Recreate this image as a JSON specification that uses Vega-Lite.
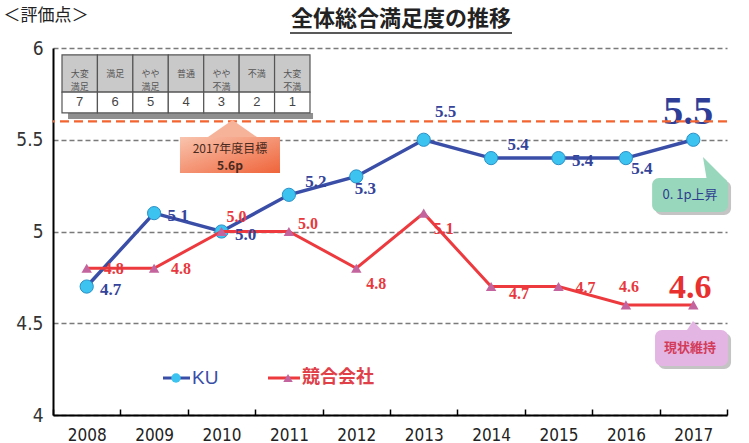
{
  "$schema": "https://vega.github.io/schema/vega-lite/v6.json",
  "width": 674,
  "height": 367,
  "autosize": {"type": "none"},
  "padding": {"left": 53, "top": 48, "right": 22, "bottom": 28},
  "background": "white",
  "config": {"view": {"stroke": null}},
  "datasets": {
    "ku": [
      {"year": "2008", "value": 4.7}, {"year": "2009", "value": 5.1}, {"year": "2010", "value": 5.0},
      {"year": "2011", "value": 5.2}, {"year": "2012", "value": 5.3}, {"year": "2013", "value": 5.5},
      {"year": "2014", "value": 5.4}, {"year": "2015", "value": 5.4}, {"year": "2016", "value": 5.4},
      {"year": "2017", "value": 5.5}
    ],
    "comp": [
      {"year": "2008", "value": 4.8}, {"year": "2009", "value": 4.8}, {"year": "2010", "value": 5.0},
      {"year": "2011", "value": 5.0}, {"year": "2012", "value": 4.8}, {"year": "2013", "value": 5.1},
      {"year": "2014", "value": 4.7}, {"year": "2015", "value": 4.7}, {"year": "2016", "value": 4.6},
      {"year": "2017", "value": 4.6}
    ],
    "scale": [
      {"score": 7, "label": "大変\n満足"}, {"score": 6, "label": "満足"}, {"score": 5, "label": "やや\n満足"},
      {"score": 4, "label": "普通"}, {"score": 3, "label": "やや\n不満"}, {"score": 2, "label": "不満"},
      {"score": 1, "label": "大変\n不満"}
    ]
  },
  "layer": [
    {
      "encoding": {
        "x": {
          "field": "year", "type": "ordinal",
          "scale": {"paddingInner": 0, "paddingOuter": 0},
          "axis": {
            "title": null, "labelAngle": 0, "tickBand": "extent", "tickSize": -6, "tickColor": "#000",
            "tickWidth": 1.5, "domainColor": "#000", "domainWidth": 2, "labelFontSize": 17,
            "labelFont": "Liberation Sans Narrow, DejaVu Sans Condensed, sans-serif", "labelColor": "#222", "labelPadding": 18
          }
        },
        "y": {
          "field": "value", "type": "quantitative",
          "scale": {"domain": [4, 6]},
          "axis": {
            "values": [4, 4.5, 5, 5.5, 6], "format": ".1~f", "grid": true, "gridDash": [5, 3], "gridColor": "#7a7a7a",
            "gridWidth": 1.4, "domainColor": "#000", "domainWidth": 2, "ticks": false, "labelFontSize": 19,
            "labelFont": "Liberation Sans Narrow, DejaVu Sans Condensed, sans-serif", "labelColor": "#333", "labelPadding": 10,
            "title": "＜評価点＞", "titleAngle": 0, "titleAlign": "left", "titleBaseline": "middle",
            "titleX": -50, "titleY": -33, "titleFontSize": 17, "titleFontWeight": "normal",
            "titleFont": "Noto Sans CJK JP", "titleColor": "#222"
          }
        }
      },
      "layer": [
        {"data": {"name": "ku"}, "mark": {"type": "line", "color": "#3a4ea8", "strokeWidth": 3.5}},
        {"data": {"name": "ku"}, "mark": {"type": "point", "shape": "circle", "filled": true, "size": 175, "color": "#3cc3ef", "stroke": "#2a90c8", "strokeWidth": 1, "opacity": 1}},
        {"data": {"name": "comp"}, "mark": {"type": "line", "color": "#ec3a3f", "strokeWidth": 3}},
        {"data": {"name": "comp"}, "mark": {"type": "point", "shape": "triangle-up", "filled": true, "size": 110, "color": "#c4649e", "opacity": 1}},
        {"data": {"name": "ku"}, "transform": [{"filter": {"field": "year", "oneOf": ["2008", "2009", "2010", "2015"]}}],
         "mark": {"type": "text", "dx": 24, "dy": 3, "font": "Liberation Serif", "fontWeight": "bold", "fontSize": 17, "color": "#34449a"},
         "encoding": {"text": {"field": "value", "type": "quantitative", "format": ".1f"}}},
        {"data": {"name": "ku"}, "transform": [{"filter": {"field": "year", "oneOf": ["2011", "2014"]}}],
         "mark": {"type": "text", "dx": 27, "dy": -13, "font": "Liberation Serif", "fontWeight": "bold", "fontSize": 17, "color": "#34449a"},
         "encoding": {"text": {"field": "value", "type": "quantitative", "format": ".1f"}}},
        {"data": {"name": "ku"}, "transform": [{"filter": {"field": "year", "oneOf": ["2012"]}}],
         "mark": {"type": "text", "dx": 9, "dy": 13, "font": "Liberation Serif", "fontWeight": "bold", "fontSize": 17, "color": "#34449a"},
         "encoding": {"text": {"field": "value", "type": "quantitative", "format": ".1f"}}},
        {"data": {"name": "ku"}, "transform": [{"filter": {"field": "year", "oneOf": ["2016"]}}],
         "mark": {"type": "text", "dx": 16, "dy": 11, "font": "Liberation Serif", "fontWeight": "bold", "fontSize": 17, "color": "#34449a"},
         "encoding": {"text": {"field": "value", "type": "quantitative", "format": ".1f"}}},
        {"data": {"name": "ku"}, "transform": [{"filter": {"field": "year", "oneOf": ["2013"]}}],
         "mark": {"type": "text", "dx": 22, "dy": -28, "font": "Liberation Serif", "fontWeight": "bold", "fontSize": 17, "color": "#34449a"},
         "encoding": {"text": {"field": "value", "type": "quantitative", "format": ".1f"}}},
        {"data": {"name": "ku"}, "transform": [{"filter": {"field": "year", "oneOf": ["2017"]}}],
         "mark": {"type": "text", "dx": -5, "dy": -28, "font": "Liberation Serif", "fontWeight": "bold", "fontSize": 40, "color": "#2e3e96"},
         "encoding": {"text": {"field": "value", "type": "quantitative", "format": ".1f"}}},
        {"data": {"name": "comp"}, "transform": [{"filter": {"field": "year", "oneOf": ["2008", "2009", "2015"]}}],
         "mark": {"type": "text", "dx": 27, "dy": 1, "font": "Liberation Serif", "fontWeight": "bold", "fontSize": 16, "color": "#e8383d"},
         "encoding": {"text": {"field": "value", "type": "quantitative", "format": ".1f"}}},
        {"data": {"name": "comp"}, "transform": [{"filter": {"field": "year", "oneOf": ["2014"]}}],
         "mark": {"type": "text", "dx": 28, "dy": 7, "font": "Liberation Serif", "fontWeight": "bold", "fontSize": 16, "color": "#e8383d"},
         "encoding": {"text": {"field": "value", "type": "quantitative", "format": ".1f"}}},
        {"data": {"name": "comp"}, "transform": [{"filter": {"field": "year", "oneOf": ["2012", "2013"]}}],
         "mark": {"type": "text", "dx": 20, "dy": 16, "font": "Liberation Serif", "fontWeight": "bold", "fontSize": 16, "color": "#e8383d"},
         "encoding": {"text": {"field": "value", "type": "quantitative", "format": ".1f"}}},
        {"data": {"name": "comp"}, "transform": [{"filter": {"field": "year", "oneOf": ["2010"]}}],
         "mark": {"type": "text", "dx": 15, "dy": -15, "font": "Liberation Serif", "fontWeight": "bold", "fontSize": 16, "color": "#e8383d"},
         "encoding": {"text": {"field": "value", "type": "quantitative", "format": ".1f"}}},
        {"data": {"name": "comp"}, "transform": [{"filter": {"field": "year", "oneOf": ["2011"]}}],
         "mark": {"type": "text", "dx": 19, "dy": -8, "font": "Liberation Serif", "fontWeight": "bold", "fontSize": 16, "color": "#e8383d"},
         "encoding": {"text": {"field": "value", "type": "quantitative", "format": ".1f"}}},
        {"data": {"name": "comp"}, "transform": [{"filter": {"field": "year", "oneOf": ["2016"]}}],
         "mark": {"type": "text", "dx": 3, "dy": -18, "font": "Liberation Serif", "fontWeight": "bold", "fontSize": 16, "color": "#e8383d"},
         "encoding": {"text": {"field": "value", "type": "quantitative", "format": ".1f"}}},
        {"data": {"name": "comp"}, "transform": [{"filter": {"field": "year", "oneOf": ["2017"]}}],
         "mark": {"type": "text", "dx": -3, "dy": -17, "font": "Liberation Serif", "fontWeight": "bold", "fontSize": 34, "color": "#e8302f"},
         "encoding": {"text": {"field": "value", "type": "quantitative", "format": ".1f"}}}
      ]
    },
    {
      "data": {"values": [{}]},
      "layer": [
        {"mark": {"type": "rule", "color": "#f26430", "strokeDash": [9, 5], "strokeWidth": 2.2},
         "encoding": {"y": {"datum": 5.6, "type": "quantitative"}}},
        {"mark": {"type": "rect", "color": "#8f8f8f"},
         "encoding": {"x": {"datum": 0.223, "type": "quantitative", "scale": {"domain": [0, 10]}, "axis": null}, "x2": {"datum": 3.858},
                      "y": {"datum": 5.646, "type": "quantitative"}, "y2": {"datum": 5.613}}},
        {"mark": {"type": "point", "shape": "M-1,0.35L0,-0.35L1,0.35Z", "filled": true, "size": 2401, "color": "#f7b39a", "opacity": 1},
         "encoding": {"x": {"datum": 2.663, "type": "quantitative", "scale": {"domain": [0, 10]}, "axis": null},
                      "y": {"datum": 5.5613, "type": "quantitative"}}},
        {"mark": {"type": "rect", "fill": {"gradient": "linear", "x1": 0, "y1": 0, "x2": 1, "y2": 1, "stops": [{"offset": 0, "color": "#f9c4ae"}, {"offset": 1, "color": "#ef643a"}]}},
         "encoding": {"x": {"datum": 1.884, "type": "quantitative", "scale": {"domain": [0, 10]}, "axis": null}, "x2": {"datum": 3.368},
                      "y": {"datum": 5.515, "type": "quantitative"}, "y2": {"datum": 5.319}}},
        {"mark": {"type": "text", "text": "2017年度目標", "fontSize": 12, "color": "#4a2a20", "font": "Noto Sans CJK JP"},
         "encoding": {"x": {"datum": 2.626, "type": "quantitative", "scale": {"domain": [0, 10]}, "axis": null},
                      "y": {"datum": 5.452, "type": "quantitative"}}},
        {"mark": {"type": "text", "text": "5.6p", "fontSize": 12, "fontWeight": "bold", "color": "#4a2a20", "font": "Noto Sans CJK JP"},
         "encoding": {"x": {"datum": 2.626, "type": "quantitative", "scale": {"domain": [0, 10]}, "axis": null},
                      "y": {"datum": 5.355, "type": "quantitative"}}},
        {"mark": {"type": "rect", "color": "#c4c4c4", "cornerRadius": 7},
         "encoding": {"x": {"datum": 8.933, "type": "quantitative", "scale": {"domain": [0, 10]}, "axis": null}, "x2": {"datum": 10.06},
                      "y": {"datum": 5.276, "type": "quantitative"}, "y2": {"datum": 5.09}}},
        {"mark": {"type": "point", "shape": "M-1,-1.1L-0.6,1.3L1.4,1.3Z", "filled": true, "size": 400, "color": "#98d7bc", "opacity": 1},
         "encoding": {"x": {"datum": 9.792, "type": "quantitative", "scale": {"domain": [0, 10]}, "axis": null},
                      "y": {"datum": 5.346, "type": "quantitative"}}},
        {"mark": {"type": "rect", "color": "#98d7bc", "cornerRadius": 7},
         "encoding": {"x": {"datum": 8.889, "type": "quantitative", "scale": {"domain": [0, 10]}, "axis": null}, "x2": {"datum": 10.015},
                      "y": {"datum": 5.292, "type": "quantitative"}, "y2": {"datum": 5.106}}},
        {"mark": {"type": "text", "text": "0. 1p上昇", "fontSize": 13, "color": "#2c3d8f", "font": "Noto Sans CJK JP"},
         "encoding": {"x": {"datum": 9.451, "type": "quantitative", "scale": {"domain": [0, 10]}, "axis": null},
                      "y": {"datum": 5.199, "type": "quantitative"}}},
        {"mark": {"type": "rect", "color": "#c4c4c4", "cornerRadius": 7},
         "encoding": {"x": {"datum": 8.976, "type": "quantitative", "scale": {"domain": [0, 10]}, "axis": null}, "x2": {"datum": 10.06},
                      "y": {"datum": 4.447, "type": "quantitative"}, "y2": {"datum": 4.251}}},
        {"mark": {"type": "point", "shape": "M-0.25,-0.69L-1.375,1L1.375,1Z", "filled": true, "size": 256, "color": "#e3b5e3", "opacity": 1},
         "encoding": {"x": {"datum": 9.525, "type": "quantitative", "scale": {"domain": [0, 10]}, "axis": null},
                      "y": {"datum": 4.4823, "type": "quantitative"}}},
        {"mark": {"type": "rect", "color": "#e3b5e3", "cornerRadius": 7},
         "encoding": {"x": {"datum": 8.932, "type": "quantitative", "scale": {"domain": [0, 10]}, "axis": null}, "x2": {"datum": 10.015},
                      "y": {"datum": 4.463, "type": "quantitative"}, "y2": {"datum": 4.267}}},
        {"mark": {"type": "text", "text": "現状維持", "fontSize": 13, "fontWeight": "bold", "color": "#d23c5a", "font": "Noto Sans CJK JP"},
         "encoding": {"x": {"datum": 9.451, "type": "quantitative", "scale": {"domain": [0, 10]}, "axis": null},
                      "y": {"datum": 4.365, "type": "quantitative"}}},
        {"mark": {"type": "rule", "color": "#3a4ea8", "strokeWidth": 3},
         "encoding": {"x": {"datum": 1.632, "type": "quantitative", "scale": {"domain": [0, 10]}, "axis": null}, "x2": {"datum": 2.033},
                      "y": {"datum": 4.2016, "type": "quantitative"}}},
        {"mark": {"type": "point", "shape": "circle", "filled": true, "size": 90, "color": "#3cc3ef", "opacity": 1},
         "encoding": {"x": {"datum": 1.825, "type": "quantitative", "scale": {"domain": [0, 10]}, "axis": null},
                      "y": {"datum": 4.2016, "type": "quantitative"}}},
        {"mark": {"type": "text", "text": "KU", "align": "left", "fontSize": 19, "color": "#3a4ea8", "font": "Liberation Sans"},
         "encoding": {"x": {"datum": 2.062, "type": "quantitative", "scale": {"domain": [0, 10]}, "axis": null},
                      "y": {"datum": 4.2016, "type": "quantitative"}}},
        {"mark": {"type": "rule", "color": "#ec3a3f", "strokeWidth": 3},
         "encoding": {"x": {"datum": 3.19, "type": "quantitative", "scale": {"domain": [0, 10]}, "axis": null}, "x2": {"datum": 3.665},
                      "y": {"datum": 4.2016, "type": "quantitative"}}},
        {"mark": {"type": "point", "shape": "triangle-up", "filled": true, "size": 90, "color": "#c4649e", "opacity": 1},
         "encoding": {"x": {"datum": 3.487, "type": "quantitative", "scale": {"domain": [0, 10]}, "axis": null},
                      "y": {"datum": 4.2016, "type": "quantitative"}}},
        {"mark": {"type": "text", "text": "競合会社", "align": "left", "fontSize": 18, "fontWeight": "bold", "color": "#e04048", "font": "Noto Sans CJK JP"},
         "encoding": {"x": {"datum": 3.694, "type": "quantitative", "scale": {"domain": [0, 10]}, "axis": null},
                      "y": {"datum": 4.2016, "type": "quantitative"}}},
        {"mark": {"type": "text", "text": "全体総合満足度の推移", "fontSize": 22, "fontWeight": "bold", "color": "#222", "font": "Noto Sans CJK JP"},
         "encoding": {"x": {"datum": 5.163, "type": "quantitative", "scale": {"domain": [0, 10]}, "axis": null},
                      "y": {"datum": 6.158, "type": "quantitative"}}},
        {"mark": {"type": "rule", "color": "#222", "strokeWidth": 1.6},
         "encoding": {"x": {"datum": 3.516, "type": "quantitative", "scale": {"domain": [0, 10]}, "axis": null}, "x2": {"datum": 6.81},
                      "y": {"datum": 6.082, "type": "quantitative"}}}
      ]
    },
    {
      "data": {"name": "scale"},
      "encoding": {
        "x": {"field": "score", "type": "ordinal", "sort": "descending",
              "scale": {"range": [9, 257], "paddingInner": 0, "paddingOuter": 0}, "axis": null}
      },
      "layer": [
        {"mark": {"type": "rect", "fill": "#c9c9c9", "stroke": "#555", "strokeWidth": 1.2},
         "encoding": {"y": {"datum": 5.962, "type": "quantitative"}, "y2": {"datum": 5.76}}},
        {"mark": {"type": "rect", "fill": "#ffffff", "stroke": "#555", "strokeWidth": 1.2},
         "encoding": {"y": {"datum": 5.76, "type": "quantitative"}, "y2": {"datum": 5.646}}},
        {"mark": {"type": "text", "lineBreak": "\n", "fontSize": 9, "lineHeight": 13, "color": "#555", "font": "Noto Sans CJK JP"},
         "encoding": {"y": {"datum": 5.861, "type": "quantitative"}, "text": {"field": "label", "type": "nominal"}}},
        {"mark": {"type": "text", "fontSize": 13, "color": "#444", "font": "Liberation Sans"},
         "encoding": {"y": {"datum": 5.706, "type": "quantitative"}, "text": {"field": "score", "type": "quantitative"}}}
      ]
    }
  ],
  "resolve": {"scale": {"x": "independent"}, "axis": {"x": "independent"}}
}
